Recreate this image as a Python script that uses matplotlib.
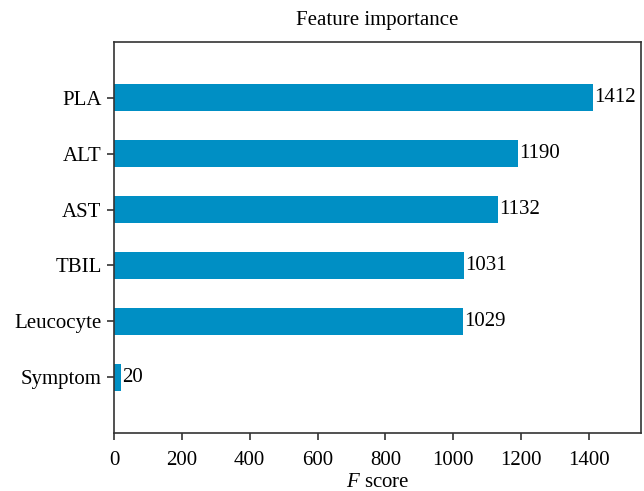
import matplotlib.pyplot as plt

# feature importance values (F score)
features = ['Symptom', 'Leucocyte', 'TBIL', 'AST', 'ALT', 'PLA']
scores = [20, 1029, 1031, 1132, 1190, 1412]

plt.rcParams['font.family'] = ['Liberation Serif', 'DejaVu Serif']
plt.rcParams['mathtext.fontset'] = 'custom'
plt.rcParams['mathtext.rm'] = 'Liberation Serif'
plt.rcParams['mathtext.it'] = 'Liberation Serif:italic'

fs = 15

fig = plt.figure(figsize=(6.44, 4.91), dpi=100)
ax = fig.add_axes([114 / 644, 1 - 433 / 491, (641 - 114) / 644, (433 - 42) / 491])

ypos = range(len(features))
ax.barh(ypos, scores, height=0.48, color='#008fc4')
for y, v in zip(ypos, scores):
    ax.text(v + 3, y, str(v), va='center', ha='left', fontsize=fs)

ax.set_yticks(list(ypos))
ax.set_yticklabels(features)
ax.set_ylim(-1, 6)
ax.set_xlim(0, max(scores) * 1.1)
ax.set_xticks(range(0, 1401, 200))

ax.tick_params(axis='both', labelsize=fs, length=5, width=1.2, color='#333333')
ax.tick_params(axis='x', pad=8)
ax.tick_params(axis='y', pad=4)
for s in ax.spines.values():
    s.set_linewidth(1.2)
    s.set_color('#333333')

ax.set_title('Feature importance', fontsize=fs, pad=12)
ax.set_xlabel('$F$ score', fontsize=fs, labelpad=2)

fig.savefig('out.png', dpi=100)
